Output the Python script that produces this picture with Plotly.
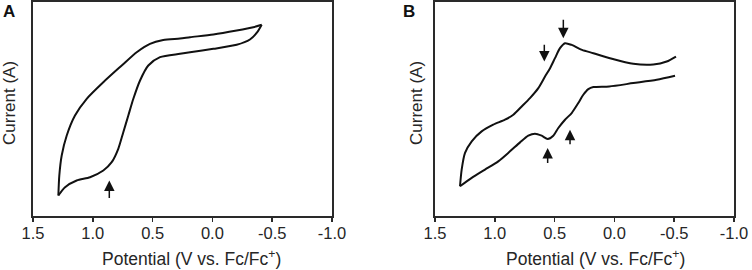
import plotly.graph_objects as go

W, H = 752, 270

# ---------------- Data ----------------
# Panel A: cyclic voltammogram
a_upper_v = [-0.412, -0.342, -0.203, -0.008, 0.187, 0.271, 0.411, 0.522, 0.633, 0.758,
             0.912, 1.051, 1.149, 1.218, 1.260, 1.280, 1.288]
a_upper_i = [190.7, 188.3, 185.0, 181.0, 178.3, 177.0, 175.5, 171.7, 163.3, 150.0,
             133.3, 116.7, 100.0, 80.0, 60.0, 40.0, 20.0]
a_lower_v = [1.288, 1.232, 1.135, 1.023, 0.912, 0.842, 0.787, 0.745, 0.703, 0.661,
             0.605, 0.536, 0.438, 0.271, 0.187, -0.008, -0.203, -0.314, -0.375, -0.412]
a_lower_i = [20.0, 28.3, 35.0, 38.3, 45.0, 53.3, 66.7, 83.3, 100.0, 116.7,
             135.0, 150.0, 158.3, 161.7, 163.3, 166.7, 170.7, 176.0, 183.3, 190.7]

# Panel B: cyclic voltammogram
b_upper_v = [1.291, 1.277, 1.249, 1.193, 1.110, 1.013, 0.915, 0.845, 0.775, 0.706,
             0.636, 0.580, 0.538, 0.497, 0.455, 0.413, 0.357, 0.271, 0.176, 0.037,
             -0.158, -0.325, -0.437, -0.515]
b_upper_i = [29.3, 46.0, 62.7, 74.3, 84.3, 91.0, 96.0, 101.0, 109.3, 117.7,
             127.7, 139.3, 147.7, 157.7, 167.7, 172.7, 171.0, 166.0, 162.7, 157.7,
             152.0, 151.3, 154.3, 159.3]
b_lower_v = [1.291, 1.193, 1.082, 0.971, 0.873, 0.789, 0.720, 0.664, 0.608, 0.558,
             0.511, 0.469, 0.413, 0.357, 0.302, 0.260, 0.218, 0.176, 0.043, -0.158,
             -0.354, -0.507]
b_lower_i = [29.3, 37.7, 46.0, 54.3, 64.3, 73.3, 80.0, 82.0, 80.0, 76.7,
             80.0, 87.7, 96.0, 102.7, 112.7, 121.0, 126.7, 128.7, 129.3, 132.7,
             136.0, 140.0]

# Arrows: potential, head current, tail current
a_arrow_v = [0.862]
a_arrow_head = [35.0]
a_arrow_tail = [16.0]
b_arrow_v = [0.586, 0.427, 0.558, 0.371]
b_arrow_head = [154.3, 177.7, 67.7, 86.0]
b_arrow_tail = [172.7, 197.7, 51.0, 70.0]

tick_vals = [1.5, 1.0, 0.5, 0.0, -0.5, -1.0]
tick_text = ["1.5", "1.0", "0.5", "0.0", "-0.5", "-1.0"]
panel_labels = ["A", "B"]
x_title = "Potential (V vs. Fc/Fc<sup>+</sup>)"
y_title = "Current (A)"

# ---------------- Figure ----------------
FONT = "Liberation Sans, Arial, sans-serif"
TXT = "#262626"
fig = go.Figure()

def add_branch(v, i, xa, ya):
    fig.add_trace(go.Scatter(x=v, y=i, mode="lines", xaxis=xa, yaxis=ya,
                             line=dict(color="#111111", width=2, shape="spline", smoothing=0.7),
                             showlegend=False, hoverinfo="skip"))

add_branch(a_upper_v, a_upper_i, "x", "y")
add_branch(a_lower_v, a_lower_i, "x", "y")
add_branch(b_upper_v, b_upper_i, "x2", "y2")
add_branch(b_lower_v, b_lower_i, "x2", "y2")

ydom = [1 - 215.5 / H, 1 - 2 / H]
xdomA = [33 / W, 332 / W]
xdomB = [435 / W, 734 / W]

axis_common = dict(showline=True, linecolor="#2a2a2a", linewidth=2, mirror=True,
                   showgrid=False, zeroline=False, automargin=False)
xaxis_common = dict(axis_common, range=[1.5, -1.0], tickvals=tick_vals, ticktext=tick_text,
                    ticks="outside", ticklen=4, tickwidth=1.5, tickcolor="#2a2a2a",
                    ticklabelstandoff=-2,
                    tickfont=dict(family=FONT, size=16.5, color=TXT))
yaxis_common = dict(axis_common, showticklabels=False, ticks="")

fig.update_layout(
    width=W, height=H, margin=dict(l=0, r=0, t=0, b=0, autoexpand=False),
    paper_bgcolor="white", plot_bgcolor="white",
    xaxis=dict(xaxis_common, domain=xdomA, anchor="y"),
    yaxis=dict(yaxis_common, domain=ydom, range=[0, 213.5], anchor="x"),
    xaxis2=dict(xaxis_common, domain=xdomB, anchor="y2"),
    yaxis2=dict(yaxis_common, domain=ydom, range=[0, 214], anchor="x2"),
)

ann = []
for v, h, t in zip(a_arrow_v, a_arrow_head, a_arrow_tail):
    ann.append(dict(x=v, y=h, ax=v, ay=t, xref="x", yref="y", axref="x", ayref="y",
                    showarrow=True, arrowhead=2, arrowsize=1.4, arrowwidth=1.5,
                    arrowcolor="#111111", text=""))
for v, h, t in zip(b_arrow_v, b_arrow_head, b_arrow_tail):
    ann.append(dict(x=v, y=h, ax=v, ay=t, xref="x2", yref="y2", axref="x2", ayref="y2",
                    showarrow=True, arrowhead=2, arrowsize=1.4, arrowwidth=1.5,
                    arrowcolor="#111111", text=""))

# axis titles and panel labels
for xc in [192 / W, 595 / W]:
    ann.append(dict(x=xc, y=1 - 258 / H, xref="paper", yref="paper", text=x_title,
                    showarrow=False, xanchor="center", yanchor="middle",
                    font=dict(family=FONT, size=17.5, color=TXT)))
for xc in [9 / W, 416 / W]:
    ann.append(dict(x=xc, y=1 - 103 / H, xref="paper", yref="paper", text=y_title,
                    showarrow=False, xanchor="center", yanchor="middle", textangle=-90,
                    font=dict(family=FONT, size=17, color=TXT)))
for lbl, xc in zip(panel_labels, [9 / W, 408.5 / W]):
    ann.append(dict(x=xc, y=1 - 11 / H, xref="paper", yref="paper", text="<b>" + lbl + "</b>",
                    showarrow=False, xanchor="center", yanchor="middle",
                    font=dict(family=FONT, size=17, color="#111111")))

fig.update_layout(annotations=ann)
fig.write_html("out.html", config={"displayModeBar": False, "staticPlot": True},
               post_script="document.body.style.margin='0';document.body.style.overflow='hidden';")
